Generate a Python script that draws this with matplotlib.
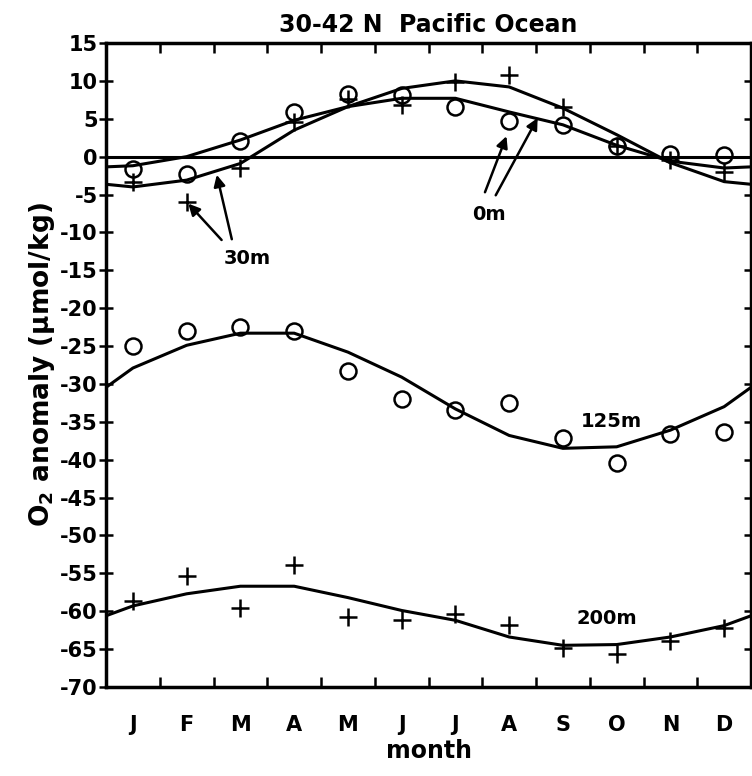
import numpy as np
import matplotlib
matplotlib.use('Agg')
from matplotlib import pyplot as plt

plt.rcParams['font.family'] = 'DejaVu Sans'
plt.rcParams['font.weight'] = 'bold'
plt.rcParams['axes.titleweight'] = 'bold'
plt.rcParams['axes.labelweight'] = 'bold'
plt.rcParams['mathtext.default'] = 'bf'
plt.rcParams['axes.unicode_minus'] = False

months = ['J', 'F', 'M', 'A', 'M', 'J', 'J', 'A', 'S', 'O', 'N', 'D']

# observations (circles = 0m / 125m, plus = 30m / 200m)
obs_0m = [-1.6, -2.3, 2.0, 5.9, 8.3, 8.1, 6.6, 4.7, 4.2, 1.4, 0.4, 0.2]
obs_30m = [-3.4, -6.0, -1.5, 4.6, 7.6, 6.8, 9.9, 10.8, 6.6, 1.4, -0.4, -2.0]
obs_125m = [-25.0, -23.0, -22.5, -23.0, -28.3, -32.0, -33.5, -32.5, -37.1, -40.4, -36.6, -36.3]
obs_200m = [-58.6, -55.4, -59.6, -53.9, -60.7, -61.2, -60.3, -61.8, -64.8, -65.6, -63.9, -62.2]

# model curves
model_0m = [-1.2, 0.0, 2.2, 4.8, 6.6, 7.7, 7.7, 5.9, 4.2, 1.5, -0.6, -1.5]
model_30m = [-4.0, -3.1, -0.9, 3.5, 6.6, 9.0, 10.0, 9.2, 6.4, 2.9, -0.8, -3.3]
model_125m = [-27.9, -24.9, -23.3, -23.3, -25.8, -29.1, -33.3, -36.8, -38.5, -38.3, -36.1, -33.0]
model_200m = [-59.3, -57.7, -56.7, -56.7, -58.2, -59.9, -61.2, -63.4, -64.5, -64.4, -63.4, -61.9]

yticks = [15, 10, 5, 0, -5, -10, -15, -20, -25, -30, -35, -40, -45, -50, -55, -60, -65, -70]

fig = plt.figure(figsize=(7.52, 7.76), dpi=100)
ax = fig.add_axes([0.141, 0.1147, 0.8577, 0.8299])

x = np.arange(12) + 0.5


def wrap(vals):
    # continue the yearly cycle past both edges, the axes clip it
    return np.r_[-0.5, x, 12.5], np.r_[vals[-1], vals, vals[0]]


for m in [model_0m, model_30m, model_125m, model_200m]:
    xm, ym = wrap(m)
    ax.plot(xm, ym, color='black', lw=2.2)

ax.axhline(0, color='black', lw=2.2)

circ = dict(marker='o', ls='none', ms=11.5, mfc='none', mec='black', mew=1.8)
plus = dict(marker='+', ls='none', ms=13, mec='black', mew=1.8)
ax.plot(x, obs_0m, **circ)
ax.plot(x, obs_125m, **circ)
ax.plot(x, obs_30m, **plus)
ax.plot(x, obs_200m, **plus)

arrow = dict(arrowstyle='-|>', color='black', lw=1.8, mutation_scale=17,
             shrinkA=0, shrinkB=0)
ax.annotate('', xy=(7.45, 2.7), xytext=(7.05, -4.7), arrowprops=arrow)
ax.annotate('', xy=(8.03, 5.1), xytext=(7.25, -5.1), arrowprops=arrow)
ax.text(7.12, -7.6, '0m', ha='center', va='center', fontsize=14)

ax.annotate('', xy=(1.53, -6.2), xytext=(2.15, -11.0), arrowprops=arrow)
ax.annotate('', xy=(2.06, -2.4), xytext=(2.34, -10.9), arrowprops=arrow)
ax.text(2.62, -13.4, '30m', ha='center', va='center', fontsize=14)

ax.text(9.41, -35.0, '125m', ha='center', va='center', fontsize=14)
ax.text(9.32, -61.0, '200m', ha='center', va='center', fontsize=14)

ax.set_xlim(0, 12)
ax.set_ylim(-70, 15)

ax.set_xticks(np.arange(1, 12))
ax.set_xticklabels([])
ax.set_xticks(x, minor=True)
ax.set_xticklabels(months, minor=True)
ax.tick_params(axis='x', which='major', direction='in', length=7, width=1.8,
               top=True, bottom=True)
ax.tick_params(axis='x', which='minor', length=0, pad=20, labelsize=15)

ax.set_yticks(yticks)
ax.set_yticklabels([str(v) for v in yticks])
ax.tick_params(axis='y', direction='inout', length=10, width=1.8, pad=1,
               left=True, right=True, labelsize=15)

for s in ax.spines.values():
    s.set_linewidth(2.5)

ax.set_title('30-42 N  Pacific Ocean', fontsize=17, fontweight='bold', pad=8)
ax.set_xlabel('month', fontsize=17, fontweight='bold', labelpad=3)
ax.set_ylabel(r'O$_2$ anomaly ($\mu$mol/kg)', fontsize=19, fontweight='bold',
              labelpad=2)

fig.savefig('out.png', dpi=100)
